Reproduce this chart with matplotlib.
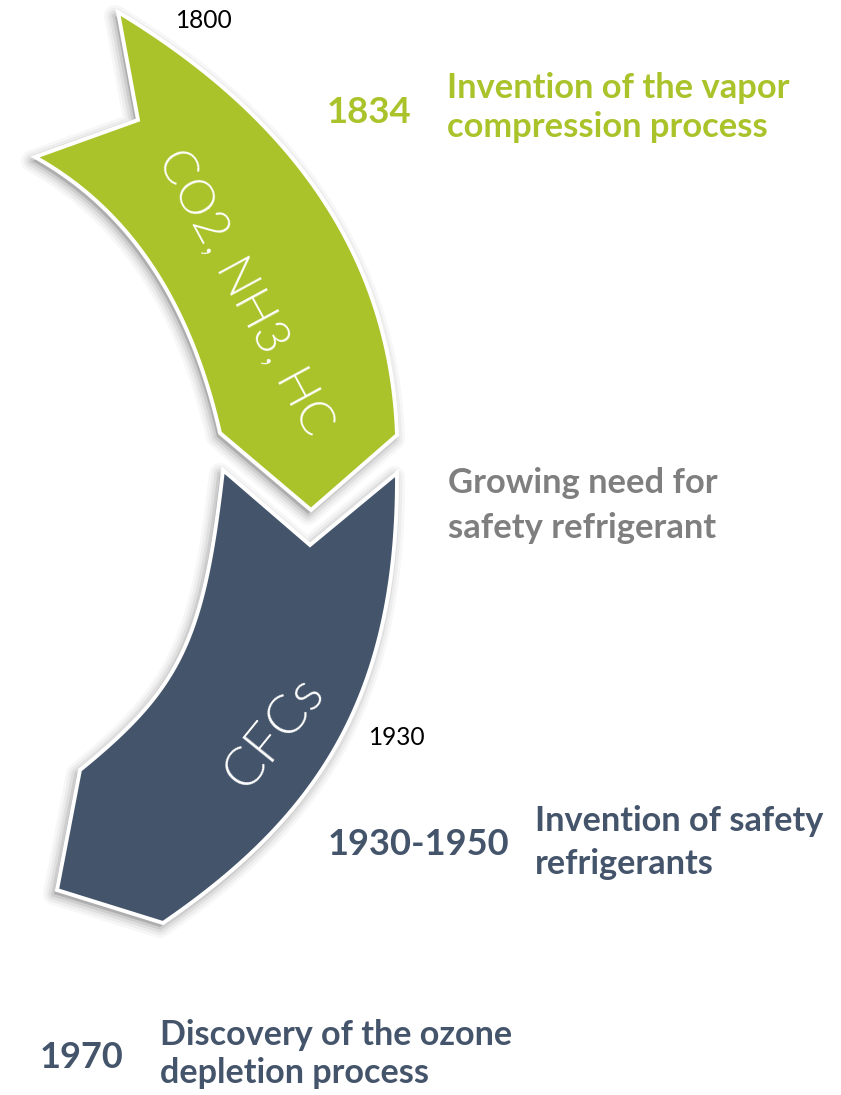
import numpy as np
import matplotlib
matplotlib.use("Agg")
import matplotlib.pyplot as plt
from matplotlib.patches import Polygon

# ---------------- content ----------------
band_labels = ["CO2, NH3, HC", "CFCs"]
band_colors = ["#AAC32B", "#44546A"]
tick_years = ["1800", "1930"]
event_years = ["1834", "1930-1950", "1970"]
event_texts = [
    ["Invention of the vapor", "compression process"],
    ["Invention of safety", "refrigerants"],
    ["Discovery of the ozone", "depletion process"],
]
event_colors = ["#AAC32B", "#44546A", "#44546A"]
note_text = ["Growing need for", "safety refrigerant"]
note_color = "#7F7F7F"

# ---------------- shape outlines (pixel space, Bezier control points) ----
green_outer = [(118, 12), (388, 175), (397, 435)]          # quadratic
green_head = [(311, 510)]
green_inner = [(220, 433), (175, 235), (35, 157)]          # quadratic
green_tail = [(138, 120)]

blue_top = [(223, 470), (310, 545)]
blue_outer = [(397, 473), (398, 693), (321, 815), (163, 923)]   # cubic
blue_tail = [(57, 890)]
blue_inner = [(80, 770), (181, 688), (204, 639), (223, 470)]    # cubic


def bezier(ctrl, n=80):
    c = np.asarray(ctrl, float)
    t = np.linspace(0, 1, n)[:, None]
    if len(c) == 3:
        return (1 - t) ** 2 * c[0] + 2 * (1 - t) * t * c[1] + t ** 2 * c[2]
    return ((1 - t) ** 3 * c[0] + 3 * (1 - t) ** 2 * t * c[1]
            + 3 * (1 - t) * t ** 2 * c[2] + t ** 3 * c[3])


green_poly = np.vstack([bezier(green_outer), np.array(green_head),
                        bezier(green_inner), np.array(green_tail)])
blue_poly = np.vstack([np.array(blue_top), bezier(blue_outer),
                       np.array(blue_tail), bezier(blue_inner)])

W, H = 841, 1095
fig = plt.figure(figsize=(W / 100, H / 100), dpi=100)
ax = fig.add_axes([0, 0, 1, 1])
ax.set_xlim(0, W)
ax.set_ylim(H, 0)
ax.axis("off")


def draw_shape(poly, color, z):
    off = np.array([-3, 4])
    for lw, a in [(16, 0.03), (12, 0.04), (8, 0.06), (4, 0.08)]:
        ax.add_patch(Polygon(poly + off, closed=True, fc="none",
                             ec=(0, 0, 0, a), lw=lw, joinstyle="round",
                             zorder=z))
    ax.add_patch(Polygon(poly + off, closed=True, fc=(0, 0, 0, 0.15),
                         ec="none", zorder=z))
    ax.add_patch(Polygon(poly, closed=True, fc=color, ec="white", lw=2.8,
                         joinstyle="miter", zorder=z + 0.5))


draw_shape(blue_poly, band_colors[1], 1)
draw_shape(green_poly, band_colors[0], 3)

fig.canvas.draw()
renderer = fig.canvas.get_renderer()


def fit_size(s, width, family, weight, base=20):
    t = ax.text(0, 0, s, fontsize=base, family=family, fontweight=weight)
    w = t.get_window_extent(renderer).width
    t.remove()
    return base * width / w


BOLD = ["Lato", "DejaVu Sans"]
REG = ["Lato", "DejaVu Sans"]


def put(x, y, s, size, color, family=BOLD, weight="bold", **kw):
    ax.text(x, y, s, fontsize=size, color=color, family=family,
            fontweight=weight, ha="left", va="baseline", zorder=10, **kw)


# event 1834
sz = fit_size(event_years[0], 85, BOLD, "bold")
put(327, 123, event_years[0], sz, event_colors[0])
sz = fit_size(event_texts[0][0], 343, BOLD, "bold")
put(447, 98, event_texts[0][0], sz, event_colors[0])
put(447, 137, event_texts[0][1], sz, event_colors[0])

# note
sz = fit_size(note_text[0], 270, BOLD, "bold")
put(448, 493, note_text[0], sz, note_color)
put(448, 538, note_text[1], sz, note_color)

# event 1930-1950
sz = fit_size(event_years[1], 182, BOLD, "bold")
put(328, 855, event_years[1], sz, event_colors[1])
sz = fit_size(event_texts[1][0], 288, BOLD, "bold")
put(535, 831, event_texts[1][0], sz, event_colors[1])
put(535, 874, event_texts[1][1], sz, event_colors[1])

# event 1970
sz = fit_size(event_years[2], 84, BOLD, "bold")
put(40, 1068, event_years[2], sz, event_colors[2])
sz = fit_size(event_texts[2][0], 352, BOLD, "bold")
put(160, 1045, event_texts[2][0], sz, event_colors[2])
put(160, 1083, event_texts[2][1], sz, event_colors[2])

# small year ticks
sz = fit_size(tick_years[0], 57, REG, "normal")
put(175, 28, tick_years[0], sz, "black", family=REG, weight="normal")
put(368, 745, tick_years[1], sz, "black", family=REG, weight="normal")

# band labels (rotated)
LBL = ["Lato", "DejaVu Sans"]
LW = 300
sz = fit_size(band_labels[0], 318, LBL, LW)
ax.text(244, 292, band_labels[0], fontsize=sz, color="white", family=LBL,
        fontweight=LW, rotation=-61.5, rotation_mode="anchor",
        ha="center", va="center", zorder=10)
sz2 = fit_size(band_labels[1], 128, LBL, LW)
ax.text(274, 733, band_labels[1], fontsize=sz2, color="white", family=LBL,
        fontweight=LW, rotation=51, rotation_mode="anchor",
        ha="center", va="center", zorder=10)

fig.savefig("out.png", dpi=100, facecolor="white")
